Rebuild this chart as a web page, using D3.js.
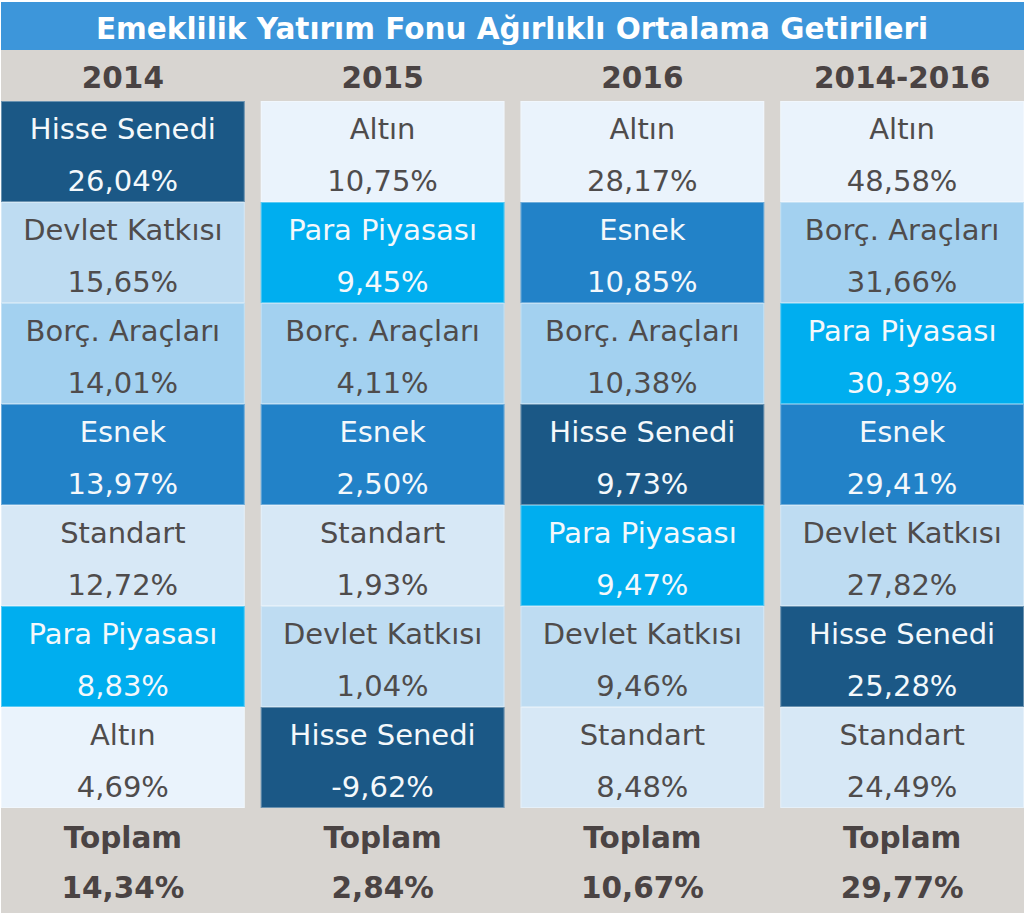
<!DOCTYPE html>
<html><head><meta charset="utf-8">
<script src="https://cdn.jsdelivr.net/npm/d3@7"></script>
<style>html,body{margin:0;padding:0;background:#fff;}svg{display:block;}</style>
</head><body>
<svg id="chart" width="1024" height="915"></svg>
<script>
const title = "Emeklilik Yatırım Fonu Ağırlıklı Ortalama Getirileri";
const columns = ["2014", "2015", "2016", "2014-2016"];
const names2014 = ["Hisse Senedi", "Devlet Katkısı", "Borç. Araçları", "Esnek", "Standart", "Para Piyasası", "Altın"];
const values2014 = [26.04, 15.65, 14.01, 13.97, 12.72, 8.83, 4.69];
const names2015 = ["Altın", "Para Piyasası", "Borç. Araçları", "Esnek", "Standart", "Devlet Katkısı", "Hisse Senedi"];
const values2015 = [10.75, 9.45, 4.11, 2.50, 1.93, 1.04, -9.62];
const names2016 = ["Altın", "Esnek", "Borç. Araçları", "Hisse Senedi", "Para Piyasası", "Devlet Katkısı", "Standart"];
const values2016 = [28.17, 10.85, 10.38, 9.73, 9.47, 9.46, 8.48];
const names1416 = ["Altın", "Borç. Araçları", "Para Piyasası", "Esnek", "Devlet Katkısı", "Hisse Senedi", "Standart"];
const values1416 = [48.58, 31.66, 30.39, 29.41, 27.82, 25.28, 24.49];
const totalLabel = "Toplam";
const totals = [14.34, 2.84, 10.67, 29.77];

const fundTypes = ["Hisse Senedi", "Esnek", "Para Piyasası", "Borç. Araçları", "Devlet Katkısı", "Standart", "Altın"];
const fundColors = ["#1b5886", "#2282c8", "#00aeef", "#a3d1f0", "#bedcf2", "#d7e8f6", "#eaf3fc"];
const fundText = ["#f4f8fb", "#f4f8fb", "#f4f8fb", "#4f4c4c", "#4f4c4c", "#4f4c4c", "#4f4c4c"];

const colNames = [names2014, names2015, names2016, names1416];
const colValues = [values2014, values2015, values2016, values1416];

const W = 1024, H = 915;
const svg = d3.select("#chart");
const FONT = "Verdana, 'DejaVu Sans', sans-serif";
const loc = d3.formatLocale({decimal: ",", thousands: ".", grouping: [3], currency: ["", ""], minus: "-"});
const fmt = v => loc.format(".2f")(v) + "%";

const color = d3.scaleOrdinal().domain(fundTypes).range(fundColors);
const textColor = d3.scaleOrdinal().domain(fundTypes).range(fundText);

// background
svg.append("rect").attr("x", 0).attr("y", 0).attr("width", W).attr("height", H).attr("fill", "#ffffff");
svg.append("rect").attr("x", 1).attr("y", 50).attr("width", W - 1).attr("height", 863).attr("fill", "#d8d5d1");
svg.append("rect").attr("x", 1).attr("y", 2).attr("width", W - 1).attr("height", 48).attr("fill", "#3d96da");
svg.append("text").attr("x", 512).attr("y", 29).attr("text-anchor", "middle").attr("dominant-baseline", "central")
  .attr("font-family", FONT).attr("font-weight", "bold").attr("font-size", 29.5).attr("fill", "#ffffff").text(title);

const gapPx = 16;
const step = (1023 + gapPx) / 4;
const x = d3.scaleBand().domain(columns).range([1, 1024]).paddingInner(gapPx / step).paddingOuter(0);
const rowIdx = d3.range(7);
const y = d3.scaleBand().domain(rowIdx).range([101, 808]);

// headers
svg.selectAll("text.hdr").data(columns).join("text").attr("class", "hdr")
  .attr("x", d => x(d) + x.bandwidth() / 2).attr("y", 78)
  .attr("text-anchor", "middle").attr("dominant-baseline", "central")
  .attr("font-family", FONT).attr("font-weight", "bold").attr("font-size", 29.5).attr("fill", "#4a4343").text(d => d);

const cells = [];
columns.forEach((c, ci) => {
  colNames[ci].forEach((n, ri) => cells.push({col: c, row: ri, name: n, value: colValues[ci][ri]}));
});

const g = svg.selectAll("g.cell").data(cells).join("g").attr("class", "cell")
  .attr("transform", d => `translate(${x(d.col)},${y(d.row)})`);
g.append("rect").attr("width", x.bandwidth()).attr("height", y.bandwidth())
  .attr("fill", d => color(d.name));
g.append("rect").attr("x", 0.5).attr("y", 0.5).attr("width", x.bandwidth() - 1).attr("height", y.bandwidth() - 1)
  .attr("fill", "none").attr("stroke", "#ffffff").attr("stroke-opacity", 0.35);
g.append("text").attr("x", x.bandwidth() / 2).attr("y", 28)
  .attr("text-anchor", "middle").attr("dominant-baseline", "central")
  .attr("font-family", FONT).attr("font-size", 29).attr("fill", d => textColor(d.name)).text(d => d.name);
g.append("text").attr("x", x.bandwidth() / 2).attr("y", 80)
  .attr("text-anchor", "middle").attr("dominant-baseline", "central")
  .attr("font-family", FONT).attr("font-size", 29).attr("fill", d => textColor(d.name)).text(d => fmt(d.value));

// totals
svg.selectAll("text.totl").data(columns).join("text").attr("class", "totl")
  .attr("x", d => x(d) + x.bandwidth() / 2).attr("y", 838)
  .attr("text-anchor", "middle").attr("dominant-baseline", "central")
  .attr("font-family", FONT).attr("font-weight", "bold").attr("font-size", 29.5).attr("fill", "#4a4343").text(totalLabel);
svg.selectAll("text.totv").data(totals).join("text").attr("class", "totv")
  .attr("x", (d, i) => x(columns[i]) + x.bandwidth() / 2).attr("y", 888)
  .attr("text-anchor", "middle").attr("dominant-baseline", "central")
  .attr("font-family", FONT).attr("font-weight", "bold").attr("font-size", 29.5).attr("fill", "#4a4343").text(d => fmt(d));
</script>
</body></html>
